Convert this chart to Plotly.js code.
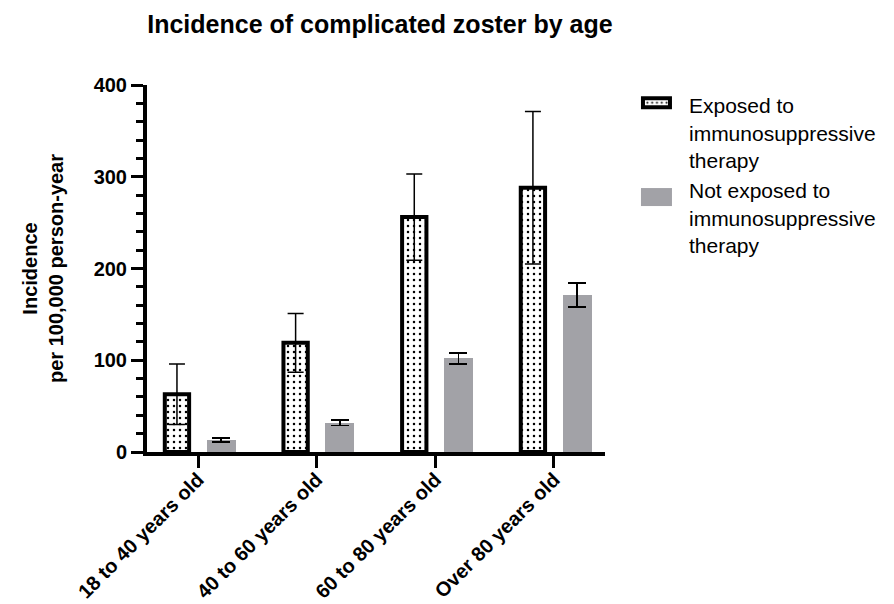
<!DOCTYPE html>
<html>
<head>
<meta charset="utf-8">
<script src="https://cdn.plot.ly/plotly-3.0.1.min.js"></script>
<style>
  html, body { margin: 0; padding: 0; background: #ffffff; }
  #chart { width: 894px; height: 604px; }
</style>
</head>
<body>
<div id="chart"></div>
<script>
// Age groups on the x axis
const ageGroups = ['18 to 40 years old', '40 to 60 years old', '60 to 80 years old', 'Over 80 years old'];

// Incidence per 100,000 person-years, with error half-widths
const exposedIncidence = [63, 119, 256, 288];
const exposedError = [33, 32, 47, 83];
const notExposedIncidence = [13, 32, 102, 171];
const notExposedError = [2, 3, 6, 13];

const seriesNames = [
  'Exposed to<br>immunosuppressive<br>therapy',
  'Not exposed to<br>immunosuppressive<br>therapy'
];

const FONT = 'Liberation Sans, Arial, Helvetica, sans-serif';

const exposed = {
  type: 'bar',
  name: seriesNames[0],
  x: ageGroups,
  y: exposedIncidence,
  width: 0.205,
  offset: -0.28,
  marker: {
    color: '#ffffff',
    line: { color: '#000000', width: 4 },
    pattern: { shape: '.', fgcolor: '#000000', bgcolor: '#ffffff', size: 6, solidity: 0.14 }
  },
  error_y: { type: 'data', array: exposedError, visible: true, color: '#000000', thickness: 1.5, width: 8 },
  hoverinfo: 'skip'
};

const notExposed = {
  type: 'bar',
  name: seriesNames[1],
  x: ageGroups,
  y: notExposedIncidence,
  width: 0.244,
  offset: 0.073,
  marker: { color: '#a2a2a7', line: { width: 0 } },
  error_y: { type: 'data', array: notExposedError, visible: true, color: '#000000', thickness: 1.5, width: 9 },
  hoverinfo: 'skip'
};

const layout = {
  width: 894,
  height: 604,
  paper_bgcolor: '#ffffff',
  plot_bgcolor: '#ffffff',
  margin: { l: 147, r: 289, t: 85, b: 152 },
  font: { family: FONT, color: '#000000' },
  title: {
    text: '<b>Incidence of complicated zoster by age</b>',
    font: { family: FONT, size: 25, color: '#000000' },
    x: 0.425, xref: 'container', xanchor: 'center',
    y: 0.96, yref: 'container', yanchor: 'middle'
  },
  xaxis: {
    type: 'category',
    range: [-0.43, 3.43],
    showline: true, linecolor: '#000000', linewidth: 4,
    ticks: 'outside', ticklen: 12, tickwidth: 3, tickcolor: '#000000',
    tickangle: -45,
    ticklabelstandoff: -8,
    tickfont: { family: FONT, size: 20, color: '#000000', weight: 'bold' },
    showgrid: false, zeroline: false, fixedrange: true
  },
  yaxis: {
    range: [0, 400],
    tickvals: [0, 100, 200, 300, 400],
    showline: true, linecolor: '#000000', linewidth: 4,
    ticks: 'outside', ticklen: 12, tickwidth: 3, tickcolor: '#000000',
    minor: { dtick: 20, ticks: 'outside', ticklen: 7, tickwidth: 3, tickcolor: '#000000', showgrid: false },
    tickfont: { family: FONT, size: 20, color: '#000000', weight: 'bold' },
    title: {
      text: '<b>Incidence<br>per 100,000 person-year</b>',
      font: { family: FONT, size: 20, color: '#000000' },
      standoff: 26
    },
    showgrid: false, zeroline: false, fixedrange: true
  },
  showlegend: true,
  legend: {
    x: 1.096, xanchor: 'left',
    y: 1.0, yanchor: 'top',
    valign: 'top',
    font: { family: FONT, size: 21, color: '#000000' },
    bgcolor: 'rgba(0,0,0,0)',
    borderwidth: 0,
    tracegroupgap: 11
  },
  bargap: 0
};

// flat rectangular legend swatches, one per trace
const swatchPaths = ['M1,2H-26V-7H1Z', 'M3,16H-28V-2H3Z'];

function widenSwatches(gd) {
  // let the wider swatches extend past the legend's clip box
  gd.querySelectorAll('.legend [clip-path]').forEach(function (el) {
    el.removeAttribute('clip-path');
  });
  const groups = gd.querySelectorAll('.legend .traces');
  groups.forEach(function (g, i) {
    g.querySelectorAll('.legendpoints path').forEach(function (p) {
      if (swatchPaths[i]) p.setAttribute('d', swatchPaths[i]);
    });
  });
}

Plotly.newPlot('chart', [exposed, notExposed], layout, { staticPlot: true, displayModeBar: false }).then(function (gd) {
  widenSwatches(gd);
  gd.on && gd.on('plotly_afterplot', function () { widenSwatches(gd); });
  setTimeout(function () { widenSwatches(gd); }, 50);
});
</script>
</body>
</html>
